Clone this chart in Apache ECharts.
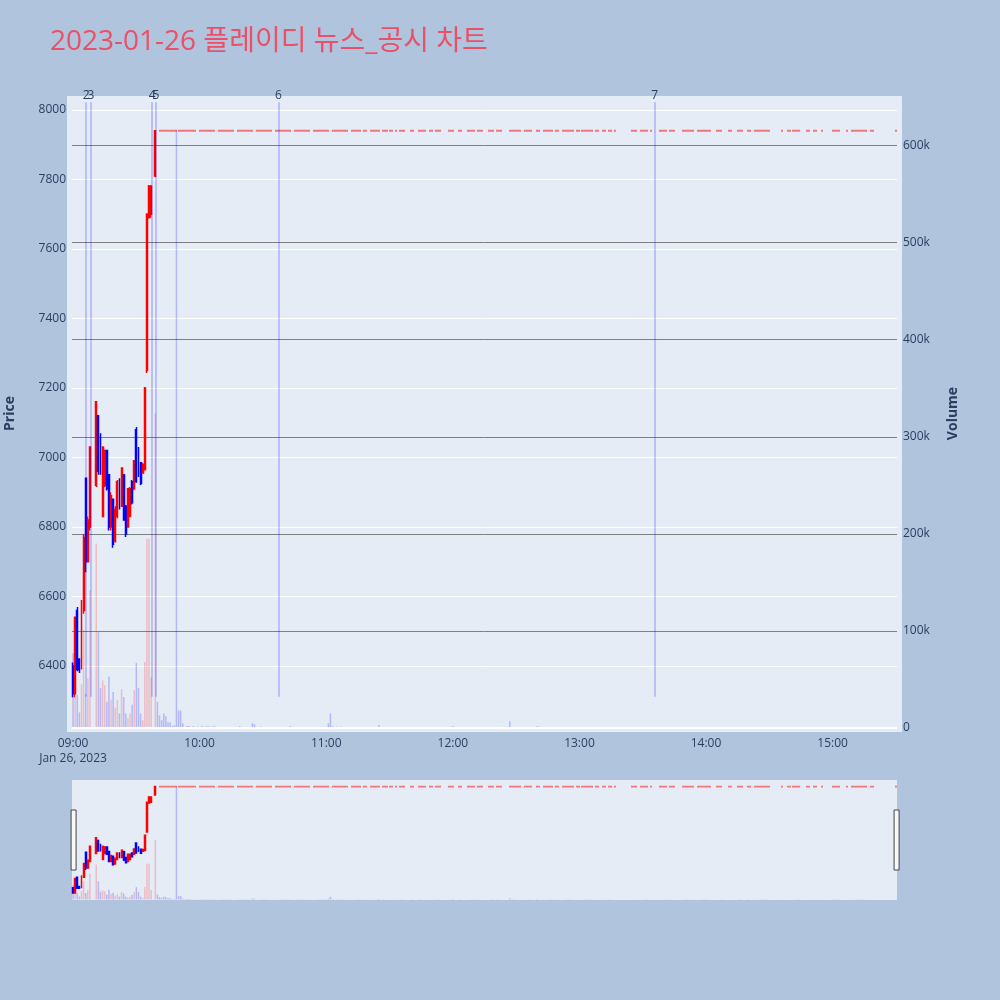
<!DOCTYPE html>
<html lang="ko">
<head>
<meta charset="utf-8">
<title>플레이디 뉴스_공시 차트</title>
<script src="https://cdn.jsdelivr.net/npm/echarts@6.0.0/dist/echarts.min.js"></script>
<style>
    html, body { margin: 0; padding: 0; background: #b0c4de; }
    #container { width: 1000px; height: 1000px; }
</style>
</head>
<body>
<div id="container"></div>
<script>
// 장 초반 분봉 (VI 로 거래 없는 분은 빠져 있음)
const openTimes = ['09:00', '09:01', '09:02', '09:03', '09:04', '09:05', '09:06', '09:07', '09:08',
    '09:11', '09:12', '09:13', '09:14', '09:15', '09:16', '09:17', '09:18', '09:19', '09:20',
    '09:21', '09:22', '09:23', '09:24', '09:25', '09:26', '09:27', '09:28', '09:29', '09:30',
    '09:31', '09:32', '09:33', '09:34', '09:35', '09:36', '09:37', '09:39'];
const openO = [6400, 6320, 6560, 6420, 6400, 6560, 6940, 6700, 6800,
    6920, 7120, 7070, 6830, 6920, 7020, 6950, 6800, 6880, 6760,
    6830, 6930, 6860, 6950, 6860, 6800, 6830, 6930, 6910, 7080,
    7030, 6985, 6955, 6965, 7250, 7690, 7700, 7810];
const openC = [6320, 6540, 6390, 6390, 6580, 6770, 6700, 6820, 7030,
    7160, 6960, 6960, 7030, 7020, 6910, 6800, 6890, 6750, 6850,
    6930, 6860, 6970, 6820, 6780, 6910, 6910, 6870, 6990, 6930,
    6950, 6925, 6980, 7200, 7700, 7780, 7780, 7940];
const openL = [6310, 6310, 6385, 6380, 6390, 6550, 6670, 6700, 6790,
    6915, 6950, 6950, 6830, 6915, 6905, 6790, 6790, 6740, 6755,
    6825, 6850, 6858, 6820, 6771, 6800, 6829, 6865, 6906, 6927,
    6944, 6921, 6955, 6964, 7243, 7689, 7690, 7807];
const openH = [6410, 6540, 6570, 6420, 6590, 6780, 6940, 6830, 7030,
    7160, 7120, 7070, 7030, 7020, 7020, 6950, 6900, 6880, 6860,
    6935, 6940, 6970, 6950, 6863, 6912, 6915, 6935, 6993, 7088,
    7030, 6987, 6984, 7203, 7703, 7784, 7784, 7940];
const openVol = [77000, 32000, 34000, 16000, 45000, 101000, 35000, 51000, 142000,
    190000, 99000, 41000, 49000, 44000, 27000, 53000, 29000, 37000, 21000,
    29000, 15000, 40000, 32000, 15000, 10000, 15000, 24000, 39000, 67000,
    41000, 15000, 8000, 68000, 195000, 195000, 52000, 324000];

// 상한가 7940 체결이 있던 구간 (시작, 끝)
const limitPrice = 7940;
const limitRuns = [
    ['09:40', '11:16'], ['11:18', '11:25'], ['11:27', '11:31'], ['11:33', '11:33'], ['11:35', '11:37'],
    ['11:40', '11:41'], ['11:44', '11:50'], ['11:52', '11:54'], ['11:57', '12:00'], ['12:03', '12:04'],
    ['12:07', '12:10'], ['12:12', '12:14'], ['12:17', '12:19'], ['12:21', '12:23'], ['12:27', '12:37'],
    ['12:40', '12:47'], ['12:49', '12:50'], ['12:52', '12:57'], ['12:59', '13:06'], ['13:08', '13:12'],
    ['13:14', '13:15'], ['13:17', '13:17'], ['13:19', '13:19'], ['13:25', '13:32'], ['13:34', '13:34'],
    ['13:37', '13:41'], ['13:43', '13:46'], ['13:49', '14:02'], ['14:04', '14:07'], ['14:11', '14:12'],
    ['14:15', '14:17'], ['14:20', '14:31'], ['14:36', '14:36'], ['14:39', '14:44'], ['14:48', '14:52'],
    ['14:55', '14:55'], ['14:59', '15:03'], ['15:07', '15:19'], ['15:30', '15:30']
];
// 상한가 구간에서 눈에 보이는 거래량, 나머지는 아주 작음
const limitVolTimes = ['09:40', '09:41', '09:42', '09:43', '09:44', '09:45', '09:46', '09:47', '09:48',
    '09:49', '09:50', '09:51', '09:52', '09:54', '09:55', '09:57', '09:59', '10:01', '10:03', '10:04',
    '10:06', '10:07', '10:19', '10:25', '10:26', '10:29', '10:43', '11:01', '11:02', '11:03', '11:05',
    '11:07', '11:25', '12:00', '12:22', '12:27', '12:40', '13:06', '14:43'];
const limitVolValues = [27000, 13000, 8000, 15000, 12000, 6000, 6000, 2000, 3000,
    616000, 18000, 18000, 5000, 2000, 2000, 2000, 1500, 2000, 1500, 2000,
    1500, 2000, 2000, 5000, 4000, 1500, 2000, 5000, 15000, 2000, 1500,
    1500, 3000, 2000, 1000, 7000, 2000, 1000, 1000];
const limitVolOther = 500;

// 뉴스/공시 시각
const newsLabels = ['2', '3', '4', '5', '6', '7'];
const newsTimes = ['09:06:10', '09:08:30', '09:37:30', '09:39:15', '10:37:20', '13:35:40'];

const UP = '#ff0000', DOWN = '#0000ff';
const UP_VOL = 'rgba(255,0,0,0.2)', DOWN_VOL = 'rgba(0,0,255,0.22)';
const FONT = '"Open Sans", "Noto Sans CJK KR", sans-serif';
const TEXT = '#2a3f5f';

const pad = n => (n < 10 ? '0' : '') + n;
const categories = [];
for (let m = 0; m <= 390; m++) {
    categories.push(pad(9 + Math.floor(m / 60)) + ':' + pad(m % 60));
}
const toMinutes = s => {
    const p = s.split(':').map(Number);
    return (p[0] - 9) * 60 + p[1] + (p[2] || 0) / 60;
};

const candleAt = {};
const volAt = {};
openTimes.forEach((t, i) => {
    candleAt[t] = [openO[i], openC[i], openL[i], openH[i]];
    volAt[t] = { v: openVol[i], up: openC[i] > openO[i] };
});
limitRuns.forEach(run => {
    for (let i = categories.indexOf(run[0]); i <= categories.indexOf(run[1]); i++) {
        const t = categories[i];
        const k = limitVolTimes.indexOf(t);
        candleAt[t] = {
            value: [limitPrice, limitPrice, limitPrice, limitPrice],
            itemStyle: {
                color: UP, color0: UP, borderColor: UP, borderColor0: UP, borderColorDoji: UP, borderWidth: 1.8
            }
        };
        volAt[t] = { v: k >= 0 ? limitVolValues[k] : limitVolOther, up: false };
    }
});

const candleData = categories.map(t => candleAt[t] || ['-', '-', '-', '-']);
const volumeData = categories.map(t => volAt[t]
    ? { value: volAt[t].v, itemStyle: { color: volAt[t].up ? UP_VOL : DOWN_VOL } }
    : '-');

const candleStyle = {
    color: UP, color0: DOWN, borderColor: UP, borderColor0: DOWN, borderColorDoji: UP, borderWidth: 1.5
};
const priceMin = 6213, priceMax = 8040;
const volMin = -3100, volMax = 651000;

var dom = document.getElementById('container');
var myChart = echarts.init(dom);

var option = {
    backgroundColor: '#b0c4de',
    animation: false,
    title: {
        text: '2023-01-26 플레이디 뉴스_공시 차트',
        left: 50,
        top: 28,
        padding: 0,
        textStyle: { color: '#ea5067', fontSize: 28, fontWeight: 'normal', fontFamily: FONT }
    },
    graphic: [{
        type: 'rect', silent: true, z: -10,
        shape: { x: 67, y: 96, width: 835, height: 636 },
        style: { fill: '#e5ecf6' }
    }],
    grid: [
        { left: 72, top: 96, width: 825, height: 635, outerBoundsMode: 'none' },
        {
            left: 72, top: 780, width: 825, height: 120, outerBoundsMode: 'none',
            show: true, backgroundColor: '#e5ecf6', borderWidth: 0
        }
    ],
    xAxis: [
        {
            type: 'category', gridIndex: 0, data: categories, boundaryGap: true,
            axisLine: { show: false }, axisTick: { show: false }, splitLine: { show: false },
            axisLabel: {
                color: TEXT, fontSize: 12, fontFamily: FONT, margin: 5, lineHeight: 15,
                interval: (index, value) => value.slice(3) === '00',
                formatter: value => value === '09:00' ? '09:00\nJan 26, 2023' : value
            }
        },
        { type: 'category', gridIndex: 1, data: categories, boundaryGap: true, show: false },
        { type: 'value', gridIndex: 0, min: -0.5, max: 390.5, show: false, position: 'top' }
    ],
    yAxis: [
        {
            type: 'value', gridIndex: 0, position: 'left', min: priceMin, max: priceMax, splitNumber: 9,
            name: 'Price', nameLocation: 'middle', nameGap: 55, nameRotate: 90,
            nameTextStyle: { color: TEXT, fontSize: 14, fontWeight: 'bold', fontFamily: FONT },
            axisLine: { show: false }, axisTick: { show: false },
            axisLabel: {
                color: TEXT, fontSize: 12, fontFamily: FONT, margin: 6,
                showMinLabel: false, showMaxLabel: false,
                formatter: v => String(v)
            },
            splitLine: { lineStyle: { color: '#ffffff', width: 1 }, showMinLine: false, showMaxLine: false }
        },
        {
            type: 'value', gridIndex: 0, position: 'right', min: volMin, max: volMax, splitNumber: 7,
            name: 'Volume', nameLocation: 'middle', nameGap: 49, nameRotate: 90,
            nameTextStyle: { color: TEXT, fontSize: 14, fontWeight: 'bold', fontFamily: FONT },
            axisLine: { show: false }, axisTick: { show: false },
            axisLabel: {
                color: TEXT, fontSize: 12, fontFamily: FONT, margin: 6,
                showMinLabel: false, showMaxLabel: false,
                formatter: v => v === 0 ? '0' : (v / 1000) + 'k'
            },
            splitLine: { lineStyle: { color: '#808080', width: 1 }, showMinLine: false, showMaxLine: false }
        },
        { type: 'value', gridIndex: 0, min: 0, max: 1, show: false },
        { type: 'value', gridIndex: 1, min: priceMin, max: priceMax, show: false },
        { type: 'value', gridIndex: 1, min: volMin, max: volMax, show: false }
    ],
    dataZoom: [{
        type: 'slider', xAxisIndex: 0, filterMode: 'none', start: 0, end: 100,
        left: 72, width: 825, top: 780, height: 120,
        showDataShadow: false, showDetail: false, brushSelect: false, moveHandleSize: 0,
        backgroundColor: 'rgba(0,0,0,0)', fillerColor: 'rgba(0,0,0,0)', borderColor: 'rgba(0,0,0,0)',
        handleIcon: 'path://M0,0 L5,0 L5,60 L0,60 Z',
        handleSize: '50%',
        handleStyle: { color: '#f8f8f8', borderColor: '#444444', borderWidth: 1 }
    }],
    series: [
        {
            type: 'bar', xAxisIndex: 0, yAxisIndex: 1, data: volumeData, barWidth: 1.5, z: 1, silent: true,
            markLine: {
                silent: true, symbol: ['none', 'none'], label: { show: false },
                lineStyle: { color: '#ffffff', width: 2, type: 'solid' },
                data: [{ yAxis: 0 }]
            }
        },
        {
            type: 'candlestick', xAxisIndex: 0, yAxisIndex: 0, data: candleData, barWidth: 1.4, z: 3, silent: true,
            itemStyle: candleStyle
        },
        {
            type: 'line', xAxisIndex: 2, yAxisIndex: 2, data: [], z: 5, silent: true,
            markLine: {
                silent: true, symbol: ['none', 'none'],
                lineStyle: { color: 'rgba(0,0,255,0.25)', width: 1.5, type: 'solid' },
                label: { show: true, position: 'end', distance: 1, formatter: '{b}', color: TEXT, fontSize: 12, fontFamily: FONT },
                data: newsTimes.map((t, i) => [
                    { name: newsLabels[i], coord: [toMinutes(t), 0.054] },
                    { coord: [toMinutes(t), 0.99] }
                ])
            }
        },
        {
            type: 'bar', xAxisIndex: 1, yAxisIndex: 4, data: volumeData, barWidth: 1.5, z: 1, silent: true
        },
        {
            type: 'candlestick', xAxisIndex: 1, yAxisIndex: 3, data: candleData, barWidth: 1.4, z: 3, silent: true,
            itemStyle: candleStyle
        }
    ]
};

if (option && typeof option === 'object') {
    myChart.setOption(option);
}
window.addEventListener('resize', myChart.resize);
</script>
</body>
</html>
